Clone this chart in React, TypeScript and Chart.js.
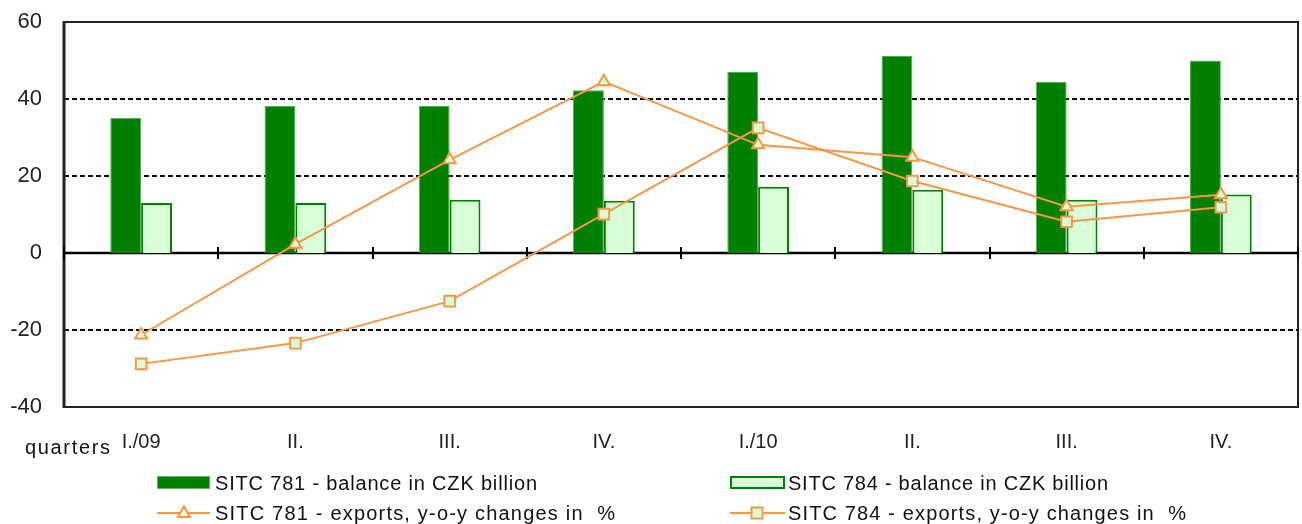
import React, { useEffect, useRef } from "react";
import { Chart, registerables } from "chart.js";

Chart.register(...registerables);

const categories = ["I./09", "II.", "III.", "IV.", "I./10", "II.", "III.", "IV."];
const balance781 = [35.1, 38.2, 38.2, 42.3, 47.0, 51.2, 44.5, 50.0];
const balance784 = [13.0, 13.0, 13.8, 13.6, 17.2, 16.4, 13.8, 15.2];
const exports781 = [-21.3, 2.3, 24.2, 44.5, 28.1, 24.9, 12.0, 15.1];
const exports784 = [-28.8, -23.4, -12.5, 10.1, 32.5, 18.7, 8.1, 11.9];
const yTicks = [-40, -20, 0, 20, 40, 60];
const xAxisTitle = "quarters";
const seriesLabels = [
  "SITC 781 - balance in CZK billion",
  "SITC 784 - balance in CZK billion",
  "SITC 781 - exports, y-o-y changes in  %",
  "SITC 784 - exports, y-o-y changes in  %",
];

const FONT = "Liberation Sans, Arial, sans-serif";
const DARK_GREEN = "#008000";
const LIGHT_GREEN = "#D9FFD9";
const ORANGE = "#F79646";

function fitText(ctx: any, text: string, x: number, y: number, target: number) {
  ctx.letterSpacing = "0px";
  const w = ctx.measureText(text).width;
  const n = Math.max(1, text.length - 1);
  const sp = Math.max(0, (target - w) / n);
  ctx.letterSpacing = `${sp}px`;
  ctx.fillText(text, x, y);
  ctx.letterSpacing = "0px";
}

const framePlugin = {
  id: "frame",
  beforeDatasetsDraw(chart: any) {
    const { ctx, chartArea: a, scales } = chart;
    const x = scales.x;
    const y = scales.y;
    const yMin = yTicks[0];
    const yMax = yTicks[yTicks.length - 1];
    ctx.save();
    for (const v of yTicks) {
      if (v === 0 || v === yMin || v === yMax) continue;
      const py = Math.round(y.getPixelForValue(v));
      ctx.beginPath();
      ctx.setLineDash([5, 3]);
      ctx.lineWidth = 2;
      ctx.strokeStyle = "#000";
      ctx.moveTo(a.left, py);
      ctx.lineTo(a.right, py);
      ctx.stroke();
    }
    ctx.setLineDash([]);
    ctx.lineWidth = 2;
    ctx.strokeStyle = "#222";
    ctx.strokeRect(a.left, a.top, a.right - a.left, a.bottom - a.top);
    ctx.beginPath();
    ctx.lineWidth = 3;
    ctx.moveTo(a.left, a.top - 1);
    ctx.lineTo(a.left, a.bottom + 1);
    ctx.stroke();
    const z = Math.round(y.getPixelForValue(0));
    ctx.beginPath();
    ctx.lineWidth = 2.5;
    ctx.strokeStyle = "#000";
    ctx.moveTo(a.left, z);
    ctx.lineTo(a.right, z);
    ctx.stroke();
    ctx.lineWidth = 2;
    const n = categories.length;
    for (let i = 0; i <= n; i++) {
      let px: number;
      if (i === 0) px = a.left;
      else if (i === n) px = a.right;
      else px = (x.getPixelForValue(i - 1) + x.getPixelForValue(i)) / 2;
      px = Math.round(px);
      ctx.beginPath();
      ctx.moveTo(px, z - 6);
      ctx.lineTo(px, z + 6);
      ctx.stroke();
    }
    ctx.restore();
  },
  afterDraw(chart: any) {
    const { ctx } = chart;
    ctx.save();
    ctx.font = `20px ${FONT}`;
    ctx.fillStyle = "#111";
    ctx.textBaseline = "alphabetic";
    ctx.textAlign = "left";
    fitText(ctx, xAxisTitle, 25, 454, 85);

    const drawTri = (cx: number, cy: number, r: number) => {
      ctx.beginPath();
      ctx.moveTo(cx, cy - r);
      ctx.lineTo(cx + r * 0.866, cy + r * 0.5);
      ctx.lineTo(cx - r * 0.866, cy + r * 0.5);
      ctx.closePath();
      ctx.fillStyle = LIGHT_GREEN;
      ctx.fill();
      ctx.lineWidth = 2;
      ctx.strokeStyle = ORANGE;
      ctx.stroke();
    };
    const drawSq = (cx: number, cy: number, s: number) => {
      ctx.fillStyle = LIGHT_GREEN;
      ctx.fillRect(cx - s / 2, cy - s / 2, s, s);
      ctx.lineWidth = 2;
      ctx.strokeStyle = ORANGE;
      ctx.strokeRect(cx - s / 2, cy - s / 2, s, s);
    };

    const cols = [157, 730];
    const rows = [483, 513];
    ctx.fillStyle = DARK_GREEN;
    ctx.fillRect(cols[0], rows[0] - 7, 53, 13);
    ctx.lineWidth = 1;
    ctx.strokeStyle = "#5DB85D";
    ctx.strokeRect(cols[0] + 0.5, rows[0] - 6.5, 52, 12);
    ctx.fillStyle = LIGHT_GREEN;
    ctx.fillRect(cols[1], rows[0] - 7, 55, 13);
    ctx.lineWidth = 2;
    ctx.strokeStyle = DARK_GREEN;
    ctx.strokeRect(cols[1] + 1, rows[0] - 6, 53, 11);
    ctx.beginPath();
    ctx.lineWidth = 2;
    ctx.strokeStyle = ORANGE;
    ctx.moveTo(cols[0], rows[1]);
    ctx.lineTo(cols[0] + 53, rows[1]);
    ctx.stroke();
    drawTri(cols[0] + 27, rows[1] + 0.5, 7);
    ctx.beginPath();
    ctx.lineWidth = 2;
    ctx.strokeStyle = ORANGE;
    ctx.moveTo(cols[1], rows[1]);
    ctx.lineTo(cols[1] + 55, rows[1]);
    ctx.stroke();
    drawSq(cols[1] + 27, rows[1], 11);

    ctx.font = `20px ${FONT}`;
    ctx.fillStyle = "#111";
    ctx.textBaseline = "alphabetic";
    fitText(ctx, seriesLabels[0], 215, 490, 322);
    fitText(ctx, seriesLabels[1], 788, 490, 320);
    fitText(ctx, seriesLabels[2], 215, 520, 400);
    fitText(ctx, seriesLabels[3], 788, 520, 398);
    ctx.restore();
  },
};

export default function App() {
  const canvasRef = useRef<HTMLCanvasElement | null>(null);

  useEffect(() => {
    const canvas = canvasRef.current;
    if (!canvas) return;
    const chart = new Chart(canvas, {
      type: "bar",
      data: {
        labels: categories,
        datasets: [
          {
            type: "line",
            label: seriesLabels[2],
            data: exports781,
            borderColor: ORANGE,
            borderWidth: 2,
            backgroundColor: LIGHT_GREEN,
            pointStyle: "triangle",
            pointRadius: 7,
            pointBorderWidth: 2,
            pointBorderColor: ORANGE,
            pointBackgroundColor: LIGHT_GREEN,
            tension: 0,
            order: 0,
          } as any,
          {
            type: "line",
            label: seriesLabels[3],
            data: exports784,
            borderColor: ORANGE,
            borderWidth: 2,
            backgroundColor: LIGHT_GREEN,
            pointStyle: "rect",
            pointRadius: 7.5,
            pointBorderWidth: 2,
            pointBorderColor: ORANGE,
            pointBackgroundColor: LIGHT_GREEN,
            tension: 0,
            order: 0,
          } as any,
          {
            type: "bar",
            label: seriesLabels[0],
            data: balance781,
            backgroundColor: DARK_GREEN,
            borderColor: "#4FAF4F",
            borderWidth: 1,
            categoryPercentage: 0.4,
            barPercentage: 1.0,
            order: 1,
          } as any,
          {
            type: "bar",
            label: seriesLabels[1],
            data: balance784,
            backgroundColor: LIGHT_GREEN,
            borderColor: DARK_GREEN,
            borderWidth: 2,
            categoryPercentage: 0.4,
            barPercentage: 1.0,
            order: 1,
          } as any,
        ],
      },
      options: {
        animation: false,
        responsive: true,
        maintainAspectRatio: false,
        layout: { autoPadding: false, padding: { top: 22, right: 4, bottom: 0, left: 0 } },
        plugins: {
          legend: { display: false },
          tooltip: { enabled: false },
          title: { display: false },
        },
        scales: {
          x: {
            offset: true,
            grid: { display: false },
            border: { display: false },
            ticks: {
              font: { family: FONT, size: 20 },
              color: "#222",
              padding: 15,
              maxRotation: 0,
              autoSkip: false,
            },
            afterFit(scale: any) {
              scale.height = 117;
              scale.paddingLeft = 0;
              scale.paddingRight = 0;
            },
          },
          y: {
            min: yTicks[0],
            max: yTicks[yTicks.length - 1],
            grid: { display: false },
            border: { display: false },
            ticks: {
              stepSize: 20,
              font: { family: FONT, size: 22 },
              color: "#222",
              padding: 14,
            },
            afterFit(scale: any) {
              scale.width = 64;
              scale.paddingTop = 0;
              scale.paddingBottom = 0;
            },
          },
        },
      },
      plugins: [framePlugin],
    });
    return () => chart.destroy();
  }, []);

  return (
    <div style={{ position: "fixed", left: 0, top: 0, width: 1302, height: 524, background: "#fff" }}>
      <canvas ref={canvasRef} />
    </div>
  );
}
